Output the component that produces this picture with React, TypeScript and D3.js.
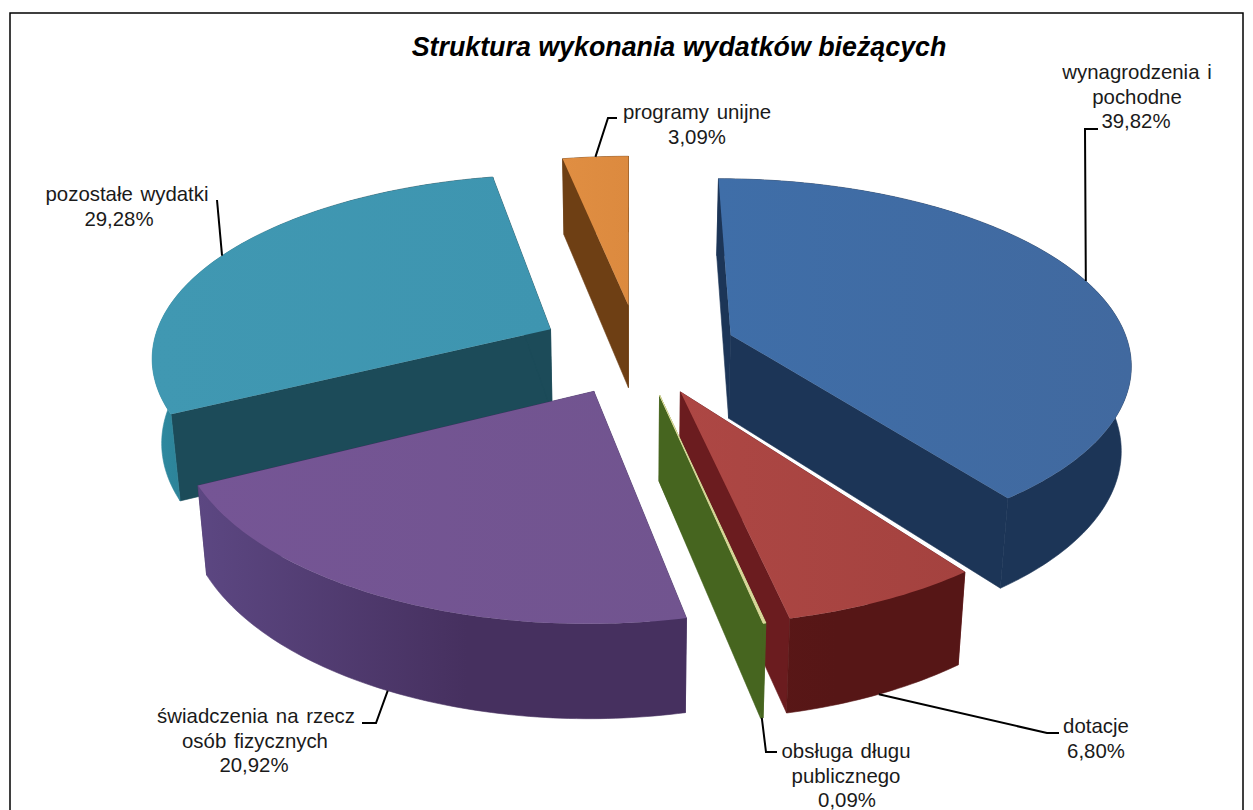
import React from "react";
import * as d3 from "d3";

const title = "Struktura wykonania wydatków bieżących";
const categories = [
  ["wynagrodzenia i", "pochodne"],
  ["dotacje"],
  ["obsługa długu", "publicznego"],
  ["świadczenia na rzecz", "osób fizycznych"],
  ["pozostałe wydatki"],
  ["programy unijne"],
];
const shares = [39.82, 6.8, 0.09, 20.92, 29.28, 3.09];

const topColors = ["#41699f", "#a4423f", "#d9d89a", "#71548f", "#3e95b0", "#dc8a3f"];
const topLight = ["#3f6ea8", "#ad4744", "#d9d89a", "#755595", "#4098b2", "#e08e42"];
const faceColors = ["#1c3557", "#6b1c1f", "#46651f", "#412e5e", "#1c4b59", "#6e3f14"];
const wallStart = ["#1c3557", "#5e1818", "#46651f", "#5c4782", "#2f8ba2", "#6e3f14"];
const wallEnd = ["#1c3557", "#561616", "#46651f", "#46305f", "#1c4b59", "#6e3f14"];

// layout of the pie projection
const W = 1253, H = 810;
const radius = 399, tilt = 0.46, persp = 0.15, explode = 0.2475;
const vx = 629, vy = 349, offX = 0.0225, depth = 84, baseShrink = 0.98;

// layout of the labels: centre x per line, first baseline, line step, leader elbow points
const labelCx = [[1137, 1137, 1136], [1096, 1096], [846, 846, 847], [256, 255, 254], [127, 119], [697, 697]];
const labelY = [79, 733, 758, 723, 201, 119];
const labelStep = 24.6;
const leaderPts: [number, number][][] = [
  [[1085, 129], [1098, 129]],
  [[1047, 733], [1059, 733]],
  [[766, 752], [777, 752]],
  [[376, 723], [362, 723]],
  [[217, 200]],
  [[608, 118], [617, 118]],
];
const leaderFromBase = [false, true, true, true, false, false];

const fmt = (v: number) => d3.format(".2f")(v).replace(".", ",") + "%";
const persS = (y: number) => 1 / (1 - persp * y);

function top(x: number, y: number): [number, number] {
  const s = persS(y);
  return [vx + radius * x * Math.pow(s, 0.92), vy + radius * tilt * y * s];
}
function base(x: number, y: number): [number, number] {
  const s = persS(y);
  const [sx, sy] = top(x, y);
  return [vx + (sx - vx) * baseShrink, sy + depth * Math.pow(s, 0.6)];
}

const pieGen = d3.pie<number>().sort(null).startAngle(0).endAngle(2 * Math.PI);
const line = d3.line();

export default function App() {
  const arcs = pieGen(shares);
  const slices = arcs.map((a, i) => {
    const mid = (a.startAngle + a.endAngle) / 2;
    const cx = offX + explode * Math.sin(mid);
    const cy = -explode * Math.cos(mid);
    const at = (t: number): [number, number] => [cx + Math.sin(t), cy - Math.cos(t)];
    const n = Math.max(2, Math.ceil((a.endAngle - a.startAngle) * 60));
    const angles = d3.range(n + 1).map((k) => a.startAngle + ((a.endAngle - a.startAngle) * k) / n);
    const rim = angles.map(at);
    const topRim = rim.map(([x, y]) => top(x, y));
    const baseRim = rim.map(([x, y]) => base(x, y));
    const aT = top(cx, cy), aB = base(cx, cy);
    const wallPath = line([...topRim, ...[...baseRim].reverse()]) + "Z";
    const topPath = line([aT, ...topRim]) + "Z";
    const face1 = line([aT, topRim[0], baseRim[0], aB]) + "Z";
    const face2 = line([aT, topRim[n], baseRim[n], aB]) + "Z";
    const [mx, my] = at(mid);
    const anchor = leaderFromBase[i] ? base(mx, my) : top(mx, my);
    const xs = [...topRim, ...baseRim, aT].map((p) => p[0]);
    return { i, wallPath, topPath, face1, face2, anchor, x0: d3.min(xs)!, x1: d3.max(xs)! };
  });
  const order = [5, 4, 0, 1, 2, 3];

  return (
    <svg
      width={W}
      height={H}
      style={{ position: "absolute", left: 0, top: 0, background: "#fff", fontFamily: "'Liberation Sans', Arial, sans-serif" }}
    >
      <defs>
        {slices.map((s) => (
          <React.Fragment key={s.i}>
            <linearGradient id={`wall${s.i}`} gradientUnits="userSpaceOnUse" x1={s.x0} x2={s.x1} y1={0} y2={0}>
              <stop offset="0" stopColor={wallStart[s.i]} />
              <stop offset="0.55" stopColor={wallEnd[s.i]} />
              <stop offset="1" stopColor={wallEnd[s.i]} />
            </linearGradient>
            <linearGradient id={`top${s.i}`} gradientUnits="userSpaceOnUse" x1={s.x0} x2={s.x1} y1={0} y2={0}>
              <stop offset="0" stopColor={topLight[s.i]} />
              <stop offset="1" stopColor={topColors[s.i]} />
            </linearGradient>
          </React.Fragment>
        ))}
      </defs>
      <rect x={10} y={13} width={1233} height={820} fill="#fff" stroke="#000" strokeWidth={1.5} />
      <text x={679} y={56} textAnchor="middle" fontSize={26.8} fontWeight="bold" fontStyle="italic" fill="#000">
        {title}
      </text>
      {order.map((idx) => {
        const s = slices[idx];
        return (
          <g key={idx}>
            <path d={s.face1} fill={faceColors[idx]} stroke={faceColors[idx]} strokeWidth={0.6} />
            <path d={s.face2} fill={faceColors[idx]} stroke={faceColors[idx]} strokeWidth={0.6} />
            <path d={s.wallPath} fill={`url(#wall${idx})`} stroke={`url(#wall${idx})`} strokeWidth={0.6} />
            <path
              d={s.topPath}
              fill={`url(#top${idx})`}
              stroke={idx === 2 ? topColors[idx] : "none"}
              strokeWidth={idx === 2 ? 1 : 0}
            />
          </g>
        );
      })}
      {slices.map((s) => (
        <path
          key={s.i}
          d={line([s.anchor, ...leaderPts[s.i]]) as string}
          fill="none"
          stroke="#000"
          strokeWidth={2}
        />
      ))}
      {categories.map((lines, i) => {
        const all = [...lines, fmt(shares[i])];
        return (
          <text key={i} fontSize={20.4} fill="#1a1a1a" textAnchor="middle" style={{ wordSpacing: "2px" }}>
            {all.map((t, k) => (
              <tspan key={k} x={labelCx[i][k]} y={labelY[i] + k * labelStep}>
                {t}
              </tspan>
            ))}
          </text>
        );
      })}
    </svg>
  );
}
